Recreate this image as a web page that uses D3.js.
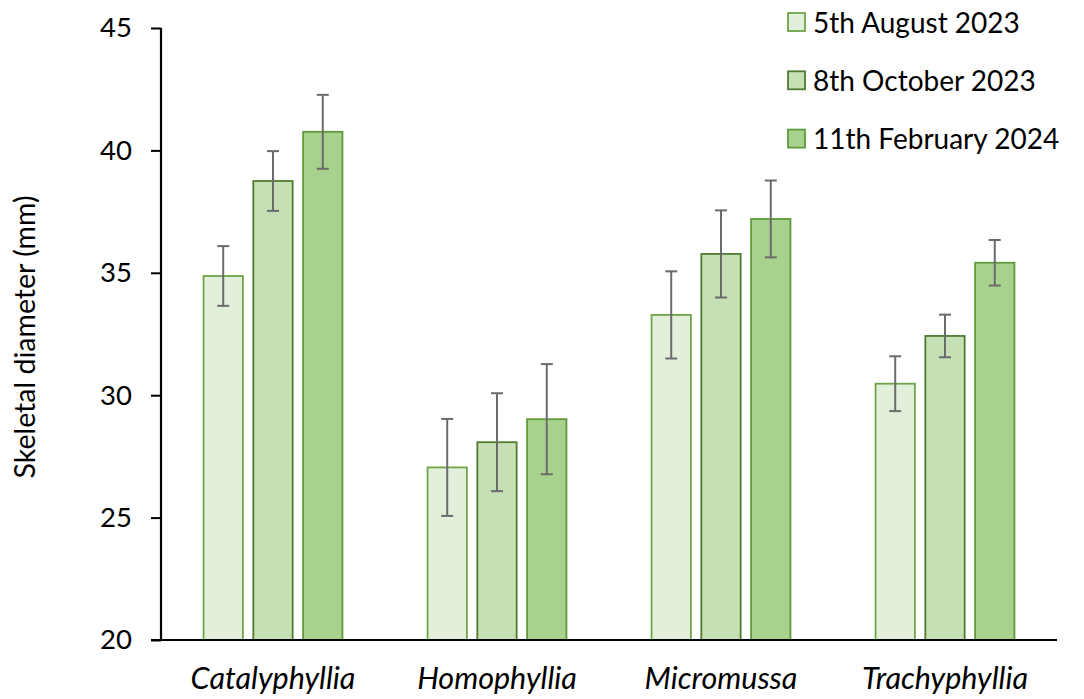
<!DOCTYPE html>
<html>
<head>
<meta charset="utf-8">
<script src="https://cdn.jsdelivr.net/npm/d3@7"></script>
<style>
  html, body { margin: 0; padding: 0; background: #fff; }
  svg { display: block; }
  text { font-family: Lato, "Open Sans", sans-serif; fill: #000; }
</style>
</head>
<body>
<svg id="chart" width="1084" height="699"></svg>
<script>
// Coral genera and survey dates
const genera = ["Catalyphyllia", "Homophyllia", "Micromussa", "Trachyphyllia"];
const surveys = ["5th August 2023", "8th October 2023", "11th February 2024"];

// Mean skeletal diameter (mm), one array per survey, in genus order
const aug2023 = [34.87, 27.05, 33.28, 30.47];
const oct2023 = [38.75, 28.08, 35.77, 32.42];
const feb2024 = [40.76, 29.02, 37.20, 35.41];

// Error bar half-widths (mm)
const errAug2023 = [1.22, 1.98, 1.78, 1.12];
const errOct2023 = [1.22, 2.00, 1.78, 0.87];
const errFeb2024 = [1.51, 2.25, 1.57, 0.93];

const yTicks = [20, 25, 30, 35, 40, 45];

const seriesValues = [aug2023, oct2023, feb2024];
const seriesErrors = [errAug2023, errOct2023, errFeb2024];
const fills = ["#E2EFDA", "#C5E0B4", "#A9D18E"];
const strokes = ["#6FA447", "#4F7C31", "#5E9A3B"];

const svg = d3.select("#chart");
const plotLeft = 161, plotRight = 1057, plotTop = 28, plotBottom = 640;

const y = d3.scaleLinear().domain([20, 45]).range([plotBottom, plotTop]);
const x0 = d3.scaleBand().domain(genera).range([plotLeft, plotRight])
  .paddingInner(0.38).paddingOuter(0.19);
const x1 = d3.scaleBand().domain(d3.range(surveys.length))
  .range([0, x0.bandwidth()]).paddingInner(0.21).paddingOuter(0);

// Flattened bar records
const bars = [];
genera.forEach((g, gi) => {
  surveys.forEach((s, si) => {
    bars.push({ genus: g, si, value: seriesValues[si][gi], err: seriesErrors[si][gi] });
  });
});

// Bars
svg.append("g").selectAll("rect").data(bars).join("rect")
  .attr("x", d => x0(d.genus) + x1(d.si))
  .attr("y", d => y(d.value))
  .attr("width", x1.bandwidth())
  .attr("height", d => y(20) - y(d.value))
  .attr("fill", d => fills[d.si])
  .attr("stroke", d => strokes[d.si])
  .attr("stroke-width", 1.8);

// Error bars
const eb = svg.append("g").attr("stroke", "#6b6b6b").attr("stroke-width", 2);
bars.forEach(d => {
  const cx = x0(d.genus) + x1(d.si) + x1.bandwidth() / 2;
  const yt = y(d.value + d.err), yb = y(d.value - d.err);
  eb.append("line").attr("x1", cx).attr("x2", cx).attr("y1", yt).attr("y2", yb);
  eb.append("line").attr("x1", cx - 6).attr("x2", cx + 6).attr("y1", yt).attr("y2", yt);
  eb.append("line").attr("x1", cx - 6).attr("x2", cx + 6).attr("y1", yb).attr("y2", yb);
});

// Y axis
const yAxis = svg.append("g").attr("transform", `translate(${plotLeft},0)`)
  .call(d3.axisLeft(y).tickValues(yTicks).tickSize(10).tickPadding(19).tickFormat(d3.format("d")));
yAxis.select(".domain").attr("stroke", "#000").attr("stroke-width", 2.2)
  .attr("d", `M0,${plotTop}V${plotBottom}`);
yAxis.selectAll(".tick line").attr("stroke", "#000").attr("stroke-width", 2);
yAxis.selectAll(".tick text").attr("font-size", 27.5).attr("font-family", "Lato, sans-serif")
  .attr("fill", "#000");

// X axis baseline
svg.append("line").attr("x1", plotLeft - 10).attr("x2", plotRight)
  .attr("y1", plotBottom).attr("y2", plotBottom)
  .attr("stroke", "#000").attr("stroke-width", 2.2);

// Category labels
svg.append("g").selectAll("text").data(genera).join("text")
  .attr("x", d => x0(d) + x0.bandwidth() / 2)
  .attr("y", 689)
  .attr("text-anchor", "middle")
  .attr("font-style", "italic")
  .attr("font-size", 30.5)
  .text(d => d);

// Y axis title
svg.append("text")
  .attr("transform", "translate(35,337) rotate(-90)")
  .attr("text-anchor", "middle")
  .attr("font-size", 28.5)
  .text("Skeletal diameter (mm)");

// Legend
const legend = svg.append("g");
surveys.forEach((s, i) => {
  const gy = 13 + i * 58.3;
  legend.append("rect").attr("x", 788).attr("y", gy).attr("width", 17).attr("height", 18)
    .attr("fill", fills[i]).attr("stroke", strokes[i]).attr("stroke-width", 1.8);
  legend.append("text").attr("x", 813).attr("y", gy + 19.5)
    .attr("font-size", 28).text(s);
});
</script>
</body>
</html>
